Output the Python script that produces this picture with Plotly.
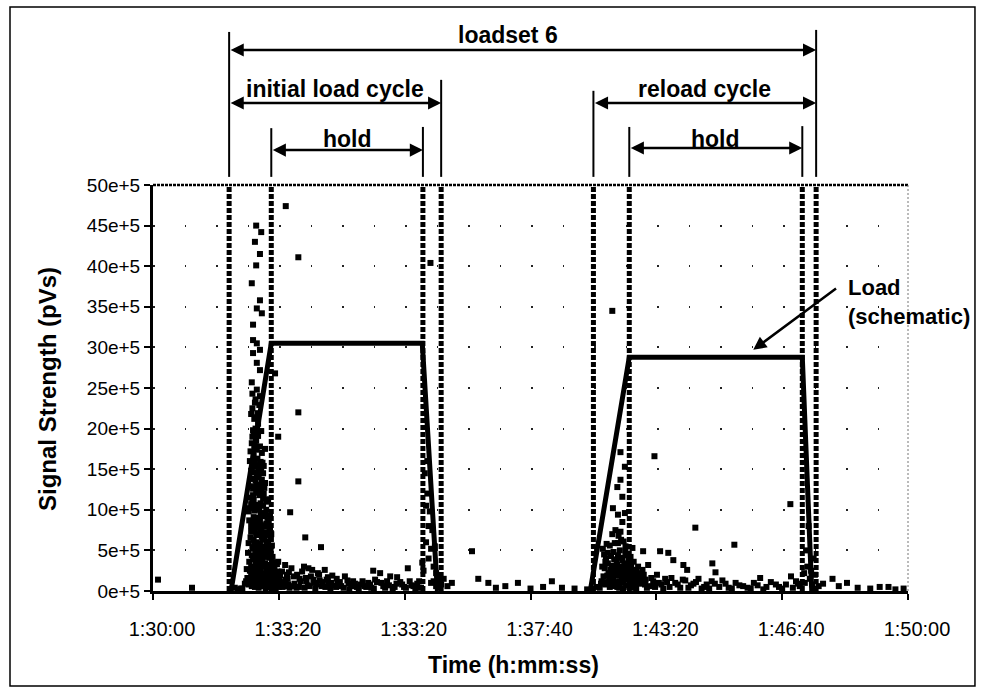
import plotly.graph_objects as go

# ---------------- data (time in seconds after 1:30:00, signal in units of 1e+5 pVs) -------------
x_tick_seconds = [0, 200, 400, 600, 800, 1000, 1200]
x_tick_labels = ["1:30:00", "1:33:20", "1:33:20", "1:37:40", "1:43:20", "1:46:40", "1:50:00"]
y_tick_values = [0, 5, 10, 15, 20, 25, 30, 35, 40, 45, 50]
y_tick_labels = ["0e+5", "5e+5", "10e+5", "15e+5", "20e+5", "25e+5",
                 "30e+5", "35e+5", "40e+5", "45e+5", "50e+5"]

# event boundaries (start load, start hold, end hold, end unload) for the two cycles
event_times = [121, 188, 429, 458, 700, 757, 1032, 1054]

# schematic load profile
load_t = [124, 188, 428, 452, None, 695, 757, 1032, 1047]
load_v = [0, 30.5, 30.5, 0, None, 0, 28.8, 28.8, 0]

# acoustic emission hits
early_hits = [(8, 1.4), (62, 0.4), (130, 0.4), (135, 0.2), (140, 0.3)]

burst1_sparse = [
    (211, 47.4), (164, 45.0), (172, 44.2), (162, 43.0), (164, 40.1), (231, 41.1), (170, 41.5),
    (157, 37.9), (170, 35.8), (165, 34.8), (173, 34.2), (159, 32.8), (159, 30.9), (165, 30.5),
    (170, 29.7), (159, 29.3), (194, 26.8), (165, 28.1), (170, 27.2), (157, 25.7), (165, 24.8),
    (162, 23.2), (231, 22.0), (165, 21.4), (199, 19.0), (159, 19.8), (231, 13.5), (218, 9.7),
    (242, 6.6), (267, 5.4),
]

burst1_dense = [
    (158, 24.3), (163, 23.6), (169, 22.9), (156, 21.8), (161, 21.2), (167, 20.6), (172, 19.7),
    (158, 19.0), (164, 18.5), (170, 17.8), (155, 17.2), (160, 16.7), (166, 16.3), (171, 15.9),
    (176, 15.4), (157, 14.9), (162, 14.6), (168, 14.0), (173, 13.7), (178, 13.3), (154, 12.9),
    (159, 12.6), (164, 12.1), (169, 11.8), (175, 11.4), (180, 11.0), (156, 10.7), (161, 10.3),
    (166, 10.0), (171, 9.6), (177, 9.3), (182, 9.0), (153, 8.7), (158, 8.4), (163, 8.1),
    (168, 7.8), (173, 7.5), (179, 7.2), (184, 6.9), (155, 6.6), (160, 6.3), (165, 6.0),
    (170, 5.8), (175, 5.5), (181, 5.2), (186, 4.9), (151, 4.7), (157, 4.4), (162, 4.2),
    (167, 3.9), (172, 3.7), (178, 3.4), (183, 3.2), (189, 2.9), (149, 2.7), (154, 2.5),
    (159, 2.3), (164, 2.1), (170, 1.9), (175, 1.7), (180, 1.5), (186, 1.3), (192, 1.1),
    (146, 0.9), (152, 0.8), (157, 0.6), (162, 0.5), (168, 0.4), (173, 0.6), (179, 0.3),
    (185, 0.7), (191, 0.4), (197, 0.6), (142, 0.3), (160, 19.6), (165, 17.4), (172, 15.0),
    (158, 13.8), (166, 12.4), (175, 10.5), (152, 9.8), (160, 9.1), (170, 8.6), (178, 8.0),
    (186, 7.6), (156, 7.3), (164, 6.9), (174, 6.5), (183, 6.1), (159, 5.4), (168, 5.1),
    (177, 4.6), (185, 4.1), (153, 3.6), (163, 3.3), (171, 2.8), (181, 2.6), (188, 2.2),
    (195, 1.8), (150, 1.6), (158, 1.4), (166, 1.2), (176, 1.0), (184, 0.9), (193, 0.8),
    (200, 0.5), (162, 15.7), (168, 14.8), (160, 11.2), (172, 12.6), (180, 8.3), (189, 5.6),
    (191, 3.5), (198, 2.4), (167, 9.0), (175, 7.0), (163, 4.8), (182, 4.4), (170, 3.0),
    (157, 10.6),
    (154, 16.0), (159, 15.3), (165, 14.2), (170, 13.1), (176, 12.0), (155, 11.5), (161, 9.9),
    (167, 8.9), (172, 8.1), (177, 6.3), (181, 5.8), (187, 5.0), (152, 5.9), (158, 5.2),
    (164, 4.5), (169, 4.3), (174, 3.9), (179, 3.0), (184, 2.8), (190, 2.5), (196, 2.0),
    (156, 3.0), (161, 2.7), (166, 2.5), (171, 2.3), (176, 2.1), (181, 1.9), (187, 1.7),
    (194, 1.4), (199, 1.2), (148, 1.2), (153, 1.1), (160, 1.0), (165, 0.9), (171, 0.8),
    (177, 0.7), (183, 0.5), (189, 1.0), (195, 0.3), (203, 0.8), (156, 8.0), (162, 7.5),
    (168, 7.0), (173, 6.7), (178, 5.0), (154, 10.2), (159, 11.8), (164, 13.0), (169, 15.2),
    (161, 17.9), (167, 19.1), (163, 20.0), (158, 22.5), (166, 21.9), (170, 24.0), (157, 18.2),
    (173, 17.0), (175, 14.5), (171, 10.8), (165, 8.4), (162, 12.8), (179, 9.6), (183, 7.9),
    (187, 6.4), (190, 4.2), (193, 3.0), (197, 3.3), (201, 1.6), (205, 1.0), (209, 0.6),
    (213, 2.0), (215, 0.8),
    (161, 16.2), (166, 15.5), (171, 14.6), (163, 13.6), (169, 12.3), (174, 11.9), (158, 11.0),
    (164, 10.6), (169, 10.2), (174, 9.2), (160, 8.7), (166, 8.2), (171, 7.2), (176, 6.7),
    (161, 5.9), (167, 5.5), (172, 4.9), (178, 4.2), (159, 3.9), (165, 3.6), (169, 3.4),
    (175, 3.1), (180, 2.3), (186, 2.0), (156, 1.9), (162, 1.6), (168, 1.4), (173, 1.2),
    (178, 1.1), (182, 1.2), (188, 0.5), (155, 1.3), (174, 15.8), (177, 12.7), (180, 10.0),
    (184, 8.6), (178, 17.5), (183, 11.3), (186, 9.3), (188, 7.0),
]

hold1_hits = [
    (199, 3.6), (205, 2.4), (210, 3.2), (214, 1.5), (220, 2.8), (225, 0.9), (229, 2.0),
    (235, 1.2), (240, 3.0), (246, 0.7), (247, 2.8), (251, 1.8), (256, 1.0), (262, 2.2),
    (268, 0.6), (273, 2.6), (276, 1.4), (279, 0.8), (285, 1.9), (291, 0.5), (297, 1.1),
    (303, 0.4), (309, 1.3), (315, 0.6), (321, 0.9), (327, 0.3), (333, 1.2), (339, 0.5),
    (345, 0.8), (350, 2.5), (351, 0.3), (356, 1.1), (361, 2.2), (363, 1.0), (369, 0.4),
    (375, 0.7), (377, 1.8), (381, 0.3), (387, 0.9), (388, 1.7), (393, 1.1), (399, 0.5),
    (405, 2.8), (411, 0.7), (417, 0.3), (423, 1.2), (208, 1.1), (217, 0.4), (232, 0.5),
    (243, 1.6), (258, 0.3), (265, 1.3), (282, 0.3), (294, 0.9), (312, 0.2), (336, 0.6),
    (202, 1.9), (206, 0.5), (211, 1.4), (216, 2.3), (221, 0.6), (224, 1.8), (228, 0.4),
    (233, 1.5), (237, 2.4), (241, 0.4), (244, 1.2), (249, 0.6), (253, 2.6), (255, 1.4),
    (260, 0.8), (264, 2.0), (270, 1.1), (274, 0.5), (278, 1.7), (283, 1.0), (288, 0.7),
    (292, 1.5), (299, 0.6), (305, 1.8), (311, 0.9), (318, 1.2), (324, 0.5), (330, 0.8),
    (342, 1.0), (347, 0.4), (353, 1.4), (366, 0.6), (372, 1.2), (384, 0.5), (396, 0.8),
    (402, 0.4), (408, 1.2), (414, 0.6), (420, 0.9), (426, 0.4),
]

unload1_hits = [
    (441, 40.4), (436, 16.0), (432, 14.5), (436, 12.0), (440, 9.8), (444, 7.5), (448, 5.5),
    (434, 6.0), (438, 4.0), (446, 3.0), (450, 2.2), (430, 2.5), (454, 1.5), (442, 1.0),
    (458, 0.8), (428, 3.5), (434, 10.5), (438, 8.0), (442, 5.2), (446, 1.2), (450, 0.6),
]

dwell_hits = [
    (462, 1.5), (468, 0.6), (475, 1.0), (507, 4.9), (517, 1.5), (533, 1.0), (545, 0.4),
    (560, 0.6), (580, 1.0), (600, 0.3), (620, 0.5), (634, 1.2), (650, 0.4), (670, 0.3),
    (690, 0.2), (705, 0.5),
]

burst2_hits = [
    (730, 34.5), (743, 17.1), (750, 15.3), (743, 13.7), (738, 12.8), (746, 11.6), (731, 10.2),
    (739, 9.4), (746, 8.5), (730, 7.0), (743, 7.3), (739, 5.9), (723, 4.7),
    (715, 5.2), (720, 4.0), (726, 5.6), (732, 4.8), (737, 3.7), (742, 5.0), (748, 6.1),
    (753, 4.4), (758, 3.2), (762, 5.3), (718, 2.8), (724, 2.2), (729, 3.1), (735, 2.5),
    (740, 1.9), (745, 2.9), (750, 2.0), (755, 1.4), (760, 2.6), (765, 1.7), (713, 1.2),
    (719, 0.8), (725, 1.5), (731, 0.6), (736, 1.1), (741, 0.4), (747, 1.0), (752, 0.7),
    (757, 0.5), (763, 0.9), (768, 0.3), (710, 0.4), (733, 3.9), (744, 4.1), (751, 5.5),
    (727, 1.0), (738, 0.5), (749, 3.4),
    (714, 3.0), (717, 4.5), (721, 5.8), (723, 3.4), (728, 4.3), (730, 2.0), (734, 5.9),
    (736, 3.0), (739, 4.4), (742, 2.4), (744, 6.3), (746, 3.8), (748, 1.6), (751, 4.8),
    (754, 2.7), (756, 3.8), (759, 4.2), (761, 1.3), (764, 3.6), (766, 2.4), (769, 1.5),
    (771, 3.0), (774, 2.2), (777, 1.2), (780, 2.0), (712, 0.9), (716, 1.8), (721, 1.1),
    (726, 0.5), (732, 1.4), (737, 2.0), (742, 1.2), (747, 0.3), (753, 1.9), (758, 1.0),
    (762, 0.4), (767, 0.9), (740, 6.8), (735, 7.5), (750, 9.6),
    (719, 3.6), (727, 2.6), (733, 2.2), (738, 3.2), (741, 3.0), (745, 1.8), (749, 2.4),
    (752, 3.0), (755, 2.2), (757, 1.6), (760, 3.3), (763, 2.0), (768, 2.6), (773, 1.0),
    (776, 1.7), (782, 0.8), (722, 1.9), (729, 0.8), (734, 0.9),
]

hold2_hits = [
    (797, 16.6), (862, 7.8), (779, 4.9), (806, 4.9), (819, 4.7), (827, 3.8), (787, 3.2),
    (778, 2.6), (843, 3.2), (849, 2.6), (1013, 10.7), (924, 5.7), (889, 3.4), (894, 2.3),
    (965, 1.6), (1014, 1.8),
    (772, 1.8), (776, 0.9), (783, 1.4), (790, 0.6), (795, 1.2), (801, 2.0), (808, 0.8),
    (814, 1.5), (821, 0.5), (830, 1.0), (838, 0.4), (846, 1.3), (855, 0.7), (863, 1.1),
    (872, 0.3), (880, 0.8), (888, 1.2), (900, 0.5), (910, 0.9), (920, 0.3), (932, 0.7),
    (945, 0.4), (955, 1.0), (975, 0.5), (990, 0.8), (1000, 0.3), (1022, 1.2), (1028, 0.6),
    (785, 0.4), (792, 1.6), (798, 0.5), (804, 1.0), (811, 0.3), (817, 1.1), (824, 1.6),
    (834, 0.8), (842, 1.4), (851, 0.4), (859, 0.9), (867, 1.5), (876, 0.5), (884, 0.3),
    (893, 0.9), (905, 1.3), (915, 0.4), (926, 1.0), (938, 0.6), (950, 0.3), (961, 0.7),
    (970, 0.2), (982, 1.1), (995, 0.5), (1006, 0.8), (1017, 0.4), (1025, 0.9),
]

unload2_hits = [
    (1036, 1.0), (1040, 3.0), (1044, 1.5), (1048, 0.8), (1052, 2.0), (1058, 0.6),
    (1038, 5.0), (1042, 8.0), (1046, 2.5), (1050, 4.0), (1035, 2.2),
    (1065, 0.9), (1080, 1.5), (1090, 0.6), (1103, 1.0), (1120, 0.4), (1140, 0.3),
    (1155, 0.5), (1169, 0.5), (1180, 0.2), (1193, 0.3),
]

# dimension annotations above the plot: (label, start, end, level)
dimension_arrows = [
    ("loadset 6", 121, 1054, 1.3325),
    ("initial load cycle", 121, 458, 1.202),
    ("hold", 188, 429, 1.086),
    ("reload cycle", 700, 1054, 1.202),
    ("hold", 757, 1032, 1.091),
]
dimension_label_y = {"loadset 6": 1.369, "initial load cycle": 1.236, "reload cycle": 1.236, "hold": 1.113}
extension_tops = [1.377, 1.140, 1.143, 1.259, 1.232, 1.143, 1.145, 1.382]

# ---------------- figure -----------------
FONT = "Liberation Sans, Arial, sans-serif"
all_hits = (early_hits + burst1_sparse + burst1_dense + hold1_hits + unload1_hits +
            dwell_hits + burst2_hits + hold2_hits + unload2_hits)

fig = go.Figure()
fig.add_trace(go.Scatter(
    x=[p[0] for p in all_hits], y=[p[1] for p in all_hits], mode="markers",
    marker=dict(symbol="square", size=6, color="black", line=dict(width=0)),
    showlegend=False, hoverinfo="skip"))
fig.add_trace(go.Scatter(
    x=load_t, y=load_v, mode="lines", line=dict(color="black", width=5),
    showlegend=False, hoverinfo="skip"))

shapes = []
# event lines inside plot (dotted) and extension lines above it (solid)
for t, top in zip(event_times, extension_tops):
    shapes.append(dict(type="line", xref="x", yref="paper", x0=t, x1=t, y0=0, y1=1,
                       line=dict(color="black", width=5, dash="5px,2px")))
    shapes.append(dict(type="line", xref="x", yref="paper", x0=t, x1=t, y0=1.02, y1=top,
                       line=dict(color="black", width=2)))
# top border (dotted black) and right border (dotted grey)
shapes.append(dict(type="line", xref="paper", yref="paper", x0=0, x1=1, y0=1, y1=1,
                   line=dict(color="black", width=2.5, dash="3px,1px")))
shapes.append(dict(type="line", xref="paper", yref="paper", x0=1, x1=1, y0=0, y1=1,
                   line=dict(color="#777", width=1, dash="2px,2px")))
# outer frame
shapes.append(dict(type="rect", xref="paper", yref="paper", x0=-0.1894, x1=1.0887,
                   y0=-0.234, y1=1.4384, line=dict(color="black", width=1.5)))

annotations = []
for label, t0, t1, lvl in dimension_arrows:
    annotations.append(dict(
        x=t1, y=lvl, xref="x", yref="paper", ax=t0, ay=0, axref="x", ayref="pixel",
        text="", showarrow=True, arrowside="end+start", arrowhead=2, startarrowhead=2,
        arrowwidth=2.5, arrowsize=1.05, startarrowsize=1.05, arrowcolor="black"))
    annotations.append(dict(
        x=(t0 + t1) / 2 if label != "loadset 6" else 564, y=dimension_label_y[label],
        xref="x", yref="paper", text=label, showarrow=False,
        font=dict(family=FONT, size=23, color="black", weight="bold"),
        xanchor="center", yanchor="middle"))

# Load (schematic) label with arrow
annotations.append(dict(x=954, y=29.7, xref="x", yref="y", ax=1088, ay=37.4, axref="x", ayref="y",
                        text="", showarrow=True, arrowhead=2, arrowwidth=2.5, arrowsize=1.05,
                        arrowcolor="black"))
annotations.append(dict(x=1101, y=35.6, xref="x", yref="y", xanchor="left", yanchor="middle",
                        text="Load<br>(schematic)", showarrow=False, align="left",
                        font=dict(family=FONT, size=22, color="black", weight="bold")))
# axis titles
annotations.append(dict(x=0.4775, y=-0.183, xref="paper", yref="paper", text="Time (h:mm:ss)",
                        showarrow=False, xanchor="center", yanchor="middle",
                        font=dict(family=FONT, size=23, color="black", weight="bold")))
annotations.append(dict(x=-0.1404, y=0.4975, xref="paper", yref="paper",
                        text="Signal Strength (pVs)", textangle=-90, showarrow=False,
                        xanchor="center", yanchor="middle",
                        font=dict(family=FONT, size=24, color="black", weight="bold")))

fig.update_layout(
    width=982, height=692, margin=dict(l=153, r=74, t=185, b=101),
    paper_bgcolor="white", plot_bgcolor="white",
    shapes=shapes, annotations=annotations,
    xaxis=dict(range=[0, 1200], tickvals=x_tick_seconds, ticktext=x_tick_labels,
               showgrid=False, zeroline=False, showline=True, linecolor="black", linewidth=3,
               ticks="outside", ticklen=6, tickwidth=2, tickcolor="black",
               ticklabelstandoff=12, ticklabelshift=9,
               tickfont=dict(family=FONT, size=20, color="black")),
    yaxis=dict(range=[0, 50], tickvals=y_tick_values, ticktext=y_tick_labels,
               showgrid=True, gridcolor="#222", gridwidth=1.5, griddash="1.5px,30px",
               zeroline=False, showline=True, linecolor="black", linewidth=3,
               ticks="outside", ticklen=6, tickwidth=2, tickcolor="black",
               tickfont=dict(family=FONT, size=19, color="black")),
)

fig.write_html("out.html")
